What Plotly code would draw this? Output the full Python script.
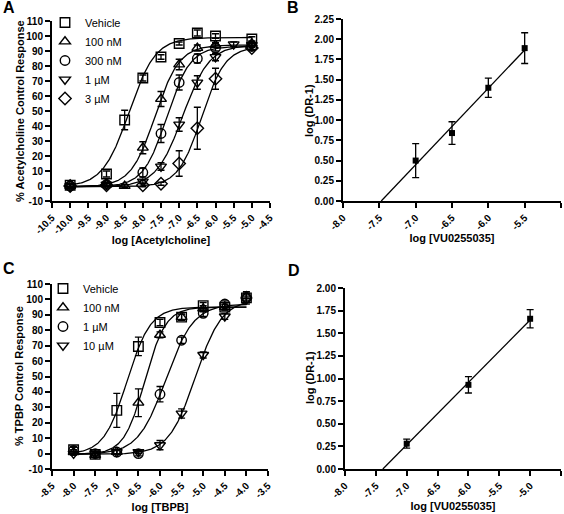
import numpy as np
import plotly.graph_objects as go

# ---------------- Panel A data (log [Acetylcholine]) ----------------
a_names = ["Vehicle", "100 nM", "300 nM", "1 µM", "3 µM"]
a_x_vehicle = [-10, -9, -8.5, -8, -7.5, -7, -6.5, -6, -5]
a_y_vehicle = [0.5, 8, 44, 72, 86, 95, 102, 100, 98]
a_e_vehicle = [1, 2, 6.5, 2, 1.5, 1, 2, 1.5, 1.5]
a_x_100nM = [-10, -9, -8.5, -8, -7.5, -7, -6.5, -6, -5]
a_y_100nM = [0, 1, 0, 25.5, 58, 81, 92, 94, 95]
a_e_100nM = [1, 1, 1, 4, 5, 3.5, 2, 1.5, 1.5]
a_x_300nM = [-10, -9, -8, -7.5, -7, -6.5, -6, -5]
a_y_300nM = [0, 1, 9, 35, 69, 85, 92, 93]
a_e_300nM = [1, 1.5, 3, 6, 5, 3, 2, 2]
a_x_1uM = [-10, -9, -8, -7.5, -7, -6.5, -6, -5.5, -5]
a_y_1uM = [0, 1, 3, 13, 41, 69, 86, 94.5, 94]
a_e_1uM = [1, 1, 1, 2.5, 4.5, 4.5, 2.5, 1.5, 1.5]
a_x_3uM = [-10, -9, -8, -7.5, -7, -6.5, -6, -5]
a_y_3uM = [0, 0.5, 0.5, 1.5, 15, 38.5, 71.5, 92]
a_e_3uM = [1, 1, 1, 1, 8.5, 14, 7, 1.5]
# fitted curve parameters: top, bottom, logEC50, hill
a_fit_top = [99, 94, 93, 94, 93]
a_fit_bottom = [-0.5, -0.5, -0.5, -0.5, -0.5]
a_fit_logec50 = [-8.38, -7.66, -7.34, -6.90, -6.38]
a_fit_hill = [1.2, 1.3, 1.35, 1.2, 1.34]

# ---------------- Panel B data ----------------
b_x = [-7.0, -6.5, -6.0, -5.5]
b_y = [0.50, 0.84, 1.40, 1.89]
b_e = [0.21, 0.14, 0.12, 0.19]

# ---------------- Panel C data (log [TBPB]) ----------------
c_names = ["Vehicle", "100 nM", "1 µM", "10 µM"]
c_x = [-8, -7.5, -7, -6.5, -6, -5.5, -5, -4.5, -4]
c_y_vehicle = [2.5, -0.5, 28, 69.5, 85, 88.5, 96, 95, 101]
c_e_vehicle = [2, 2, 11, 6, 2, 2, 2, 2, 3]
c_y_100nM = [1, -1, 1, 33, 77, 88.5, 94, 95, 102]
c_e_100nM = [1.5, 1.5, 1.5, 9, 2, 2, 2, 2, 3]
c_y_1uM = [2, 0, 1, 0, 38.5, 73.5, 91, 97, 101]
c_e_1uM = [2, 1.5, 1.5, 1.5, 5, 2, 2, 2, 3]
c_y_10uM = [0, 0, 1, 1, 5.5, 26, 64, 89, 100]
c_e_10uM = [1, 1, 1, 1, 3, 3, 2, 2, 3]
c_fit_top = [95, 95, 97, 100]
c_fit_bottom = [-0.5, -0.5, -0.5, -0.5]
c_fit_logec50 = [-6.76, -6.35, -5.865, -5.18]
c_fit_hill = [1.6, 1.8, 1.35, 1.41]

# ---------------- Panel D data ----------------
d_x = [-7.0, -6.0, -5.0]
d_y = [0.28, 0.93, 1.66]
d_e = [0.05, 0.09, 0.10]

# ---------------- tick labels ----------------
a_xticks = [-10.5, -10.0, -9.5, -9.0, -8.5, -8.0, -7.5, -7.0, -6.5, -6.0, -5.5, -5.0, -4.5]
a_xticklabels = ["-10.5", "-10.0", "-9.5", "-9.0", "-8.5", "-8.0", "-7.5", "-7.0", "-6.5", "-6.0", "-5.5", "-5.0", "-4.5"]
pct_yticks = [-10, 0, 10, 20, 30, 40, 50, 60, 70, 80, 90, 100, 110]
pct_yticklabels = ["-10", "0", "10", "20", "30", "40", "50", "60", "70", "80", "90", "100", "110"]
b_xticks = [-8.0, -7.5, -7.0, -6.5, -6.0, -5.5, -5.0]
b_xticklabels = ["-8.0", "-7.5", "-7.0", "-6.5", "-6.0", "-5.5", "-5.0"]
b_yticks = [0, 0.25, 0.5, 0.75, 1.0, 1.25, 1.5, 1.75, 2.0, 2.25]
b_yticklabels = ["0.00", "0.25", "0.50", "0.75", "1.00", "1.25", "1.50", "1.75", "2.00", "2.25"]
c_xticks = [-8.5, -8.0, -7.5, -7.0, -6.5, -6.0, -5.5, -5.0, -4.5, -4.0, -3.5]
c_xticklabels = ["-8.5", "-8.0", "-7.5", "-7.0", "-6.5", "-6.0", "-5.5", "-5.0", "-4.5", "-4.0", "-3.5"]
d_xticks = [-8.0, -7.5, -7.0, -6.5, -6.0, -5.5, -5.0, -4.5]
d_xticklabels = ["-8.0", "-7.5", "-7.0", "-6.5", "-6.0", "-5.5", "-5.0", "-4.5"]
d_yticks = [0, 0.25, 0.5, 0.75, 1.0, 1.25, 1.5, 1.75, 2.0]
d_yticklabels = ["0.00", "0.25", "0.50", "0.75", "1.00", "1.25", "1.50", "1.75", "2.00"]

FONT = "Liberation Sans, Arial, sans-serif"
W, H = 564, 514

fig = go.Figure()


def sigmoid(x, top, bottom, logec50, hill):
    return bottom + (top - bottom) / (1 + 10 ** (hill * (logec50 - x)))


def add_series(xs, ys, es, name, symbol, xa, ya, legend):
    fig.add_trace(go.Scatter(
        x=xs, y=ys, mode="markers", name=name, legend=legend,
        xaxis=xa, yaxis=ya, cliponaxis=False,
        marker=dict(symbol=symbol, size=9.5, color="black", line=dict(width=1.4, color="black")),
        error_y=dict(type="data", array=es, visible=True, width=3.5, thickness=1.3, color="black"),
    ))


def add_curve(xmin, xmax, top, bottom, logec50, hill, xa, ya):
    xs = np.linspace(xmin, xmax, 300)
    fig.add_trace(go.Scatter(
        x=xs, y=sigmoid(xs, top, bottom, logec50, hill), mode="lines",
        line=dict(color="black", width=1.3), showlegend=False, hoverinfo="skip",
        xaxis=xa, yaxis=ya,
    ))


# Panel A
a_symbols = ["square-open", "triangle-up-open", "circle-open", "triangle-down-open", "diamond-open"]
for i in range(5):
    add_curve(-10, -5, a_fit_top[i], a_fit_bottom[i], a_fit_logec50[i], a_fit_hill[i], "x", "y")
a_sets = [(a_x_vehicle, a_y_vehicle, a_e_vehicle), (a_x_100nM, a_y_100nM, a_e_100nM),
          (a_x_300nM, a_y_300nM, a_e_300nM), (a_x_1uM, a_y_1uM, a_e_1uM), (a_x_3uM, a_y_3uM, a_e_3uM)]
for i, (xs, ys, es) in enumerate(a_sets):
    add_series(xs, ys, es, a_names[i], a_symbols[i], "x", "y", "legend")

# Panel C
c_symbols = ["square-open", "triangle-up-open", "circle-open", "triangle-down-open"]
for i in range(4):
    add_curve(-8, -4, c_fit_top[i], c_fit_bottom[i], c_fit_logec50[i], c_fit_hill[i], "x3", "y3")
c_sets = [(c_y_vehicle, c_e_vehicle), (c_y_100nM, c_e_100nM), (c_y_1uM, c_e_1uM), (c_y_10uM, c_e_10uM)]
for i, (ys, es) in enumerate(c_sets):
    add_series(c_x, ys, es, c_names[i], c_symbols[i], "x3", "y3", "legend2")


# Panels B & D: Schild regression
def add_schild(xs, ys, es, xa, ya):
    slope, icpt = np.polyfit(xs, ys, 1)
    x0 = -icpt / slope
    lx = np.array([x0, max(xs)])
    fig.add_trace(go.Scatter(x=lx, y=slope * lx + icpt, mode="lines", line=dict(color="black", width=1.3),
                             showlegend=False, xaxis=xa, yaxis=ya, hoverinfo="skip"))
    fig.add_trace(go.Scatter(
        x=xs, y=ys, mode="markers", showlegend=False, xaxis=xa, yaxis=ya, cliponaxis=False,
        marker=dict(symbol="square", size=6, color="black"),
        error_y=dict(type="data", array=es, visible=True, width=3.5, thickness=1.3, color="black")))


add_schild(b_x, b_y, b_e, "x2", "y2")
add_schild(d_x, d_y, d_e, "x4", "y4")


def xaxis(domain, rng, tv, tt, title, anchor, standoff):
    return dict(domain=domain, range=rng, anchor=anchor, tickvals=tv, ticktext=tt, tickangle=-45,
                showline=True, linecolor="black", linewidth=2, ticks="outside", ticklen=5, tickwidth=2,
                tickcolor="black", showgrid=False, zeroline=False, automargin=False,
                tickfont=dict(family=FONT, size=10, color="black", weight="bold"),
                title=dict(text=title, standoff=standoff, font=dict(family=FONT, size=11, color="black", weight="bold")))


def yaxis(domain, rng, tv, tt, anchor):
    return dict(domain=domain, range=rng, anchor=anchor, tickvals=tv, ticktext=tt,
                showline=True, linecolor="black", linewidth=2, ticks="outside", ticklen=5, tickwidth=2,
                tickcolor="black", showgrid=False, zeroline=False, automargin=False,
                tickfont=dict(family=FONT, size=10, color="black", weight="bold"))


domA_x = [52 / W, 270 / W]; domA_y = [1 - 201 / H, 1 - 21 / H]
domB_x = [343 / W, 561 / W]; domB_y = [1 - 201 / H, 1 - 19 / H]
domC_x = [52 / W, 268 / W]; domC_y = [1 - 469 / H, 1 - 284 / H]
domD_x = [345 / W, 561 / W]; domD_y = [1 - 469 / H, 1 - 288 / H]

fig.update_layout(
    width=W, height=H, margin=dict(l=0, r=0, t=0, b=0, pad=0, autoexpand=False),
    paper_bgcolor="white", plot_bgcolor="white",
    font=dict(family=FONT, color="black"),
    xaxis=xaxis(domA_x, [-10.5, -4.5], a_xticks, a_xticklabels, "log [Acetylcholine]", "y", 1),
    yaxis=yaxis(domA_y, [-10, 110], pct_yticks, pct_yticklabels, "x"),
    xaxis2=xaxis(domB_x, [-8, -5], b_xticks, b_xticklabels, "log [VU0255035]", "y2", 3),
    yaxis2=yaxis(domB_y, [0, 2.25], b_yticks, b_yticklabels, "x2"),
    xaxis3=xaxis(domC_x, [-8.5, -3.5], c_xticks, c_xticklabels, "log [TBPB]", "y3", 4),
    yaxis3=yaxis(domC_y, [-10, 110], pct_yticks, pct_yticklabels, "x3"),
    xaxis4=xaxis(domD_x, [-8, -4.5], d_xticks, d_xticklabels, "log [VU0255035]", "y4", 3),
    yaxis4=yaxis(domD_y, [0, 2.0], d_yticks, d_yticklabels, "x4"),
    legend=dict(x=45 / W, y=1 - 8 / H, xanchor="left", yanchor="top", bgcolor="rgba(0,0,0,0)",
                font=dict(family=FONT, size=11, color="black"), tracegroupgap=0),
    legend2=dict(x=43 / W, y=1 - 274 / H, xanchor="left", yanchor="top", bgcolor="rgba(0,0,0,0)",
                 font=dict(family=FONT, size=11, color="black"), tracegroupgap=0),
    showlegend=True,
)

# y-axis titles
for txt, px, py in [("% Acetylcholine Control Response", 20, 111), ("log (DR-1)", 309, 111),
                    ("% TPBP Control Response", 19, 376), ("log (DR-1)", 310, 378)]:
    fig.add_annotation(text=txt, x=px / W, y=1 - py / H, xref="paper", yref="paper", showarrow=False,
                       textangle=-90, xanchor="center", yanchor="middle",
                       font=dict(family=FONT, size=11, color="black", weight="bold"))

# panel letters
for txt, px, py in [("A", 9, 8), ("B", 293, 8), ("C", 9, 268), ("D", 294, 270)]:
    fig.add_annotation(text=txt, x=px / W, y=1 - py / H, xref="paper", yref="paper", showarrow=False,
                       xanchor="center", yanchor="middle", font=dict(family=FONT, size=16, color="black", weight="bold"))

fig.write_html("out.html", config={"displayModeBar": False},
               post_script="document.body.style.margin='0px';")
